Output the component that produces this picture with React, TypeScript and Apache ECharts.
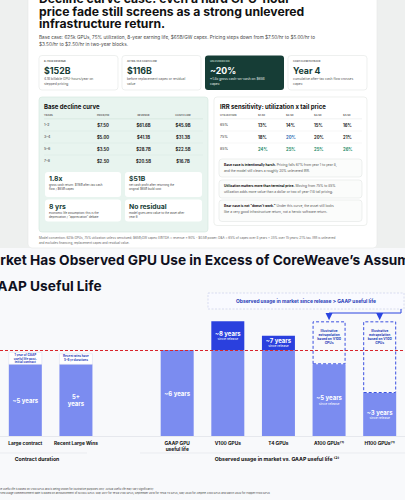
import React, { useEffect, useRef } from "react";
import * as echarts from "echarts";

const FONT = 'Inter, "Noto Sans", sans-serif';

// ---------- top report data ----------
const reportTitle = ["Decline curve case: even a hard GPU-hour", "price fade still screens as a strong unlevered", "infrastructure return."];
const reportSubtitle = [
  "Base case: 625k GPUs, 75% utilization, 8-year earning life, $65B/GW capex. Pricing steps down from $7.50/hr to $5.00/hr to",
  "$3.50/hr to $2.50/hr in two-year blocks.",
];
const kpiLabels = ["8-YEAR REVENUE", "AFTER-TAX CASH FLOW", "UNLEVERED IRR", "CASH FLOW PAYBACK"];
const kpiValues = ["$152B", "$116B", "~20%", "Year 4"];
const kpiNotes = [
  ["4.1B billable GPU-hours/year on", "stepped pricing"],
  ["before replacement capex or residual", "value"],
  ["~1.8x gross cash-on-cash on $65B", "capex"],
  ["cumulative after-tax cash flow crosses", "capex"],
];
const declineHeaders = ["YEARS", "PRICE/HR", "REVENUE", "CASH FLOW"];
const declineYears = ["1–2", "3–4", "5–6", "7–8"];
const declinePrice = ["$7.50", "$5.00", "$3.50", "$2.50"];
const declineRevenue = ["$61.6B", "$41.1B", "$28.7B", "$20.5B"];
const declineCashFlow = ["$45.9B", "$31.3B", "$22.5B", "$16.7B"];
const statValues = ["1.8x", "$51B", "8 yrs", "No residual"];
const statNotes = [
  ["gross cash return: $116B after-tax cash", "flow / $65B capex"],
  ["net cash profit after returning the", "original $65B build cost"],
  ["economic life assumption; this is the", "depreciation / \u201cappreciation\u201d debate"],
  ["model gives zero value to the asset after", "year 8"],
];
const modelConvention = [
  "Model convention: 625k GPUs, 75% utilization unless sensitized; $65B/GW capex; EBITDA = revenue \u00d7 90% - $0.5B power; D&A = 65% of capex over 8 years + 35% over 15 years; 21% tax. IRR is unlevered",
  "and excludes financing, replacement capex and residual value.",
];
const irrTailPrices = ["$1.50", "$2.50", "$3.50", "$4.50"];
const irrUtil = ["65%", "75%", "85%"];
const irrValues = [
  [13, 14, 15, 16],
  [18, 20, 20, 21],
  [24, 25, 25, 26],
];
const irrNotes = [
  { lead: "Base case is intentionally harsh.", rest: " Pricing falls 67% from year 1 to year 8,", line2: "and the model still clears a roughly 20% unlevered IRR." },
  { lead: "Utilization matters more than terminal price.", rest: " Moving from 75% to 85%", line2: "utilization adds more value than a dollar or two of year-7/8 tail pricing." },
  { lead: "Bear case is not \u201cdoesn't work.\u201d", rest: " Under this curve, the asset still looks", line2: "like a very good infrastructure return, not a heroic software return." },
];

// ---------- bottom chart data ----------
const chartTitle = ["Market Has Observed GPU Use in Excess of CoreWeave\u2019s Assumed", "GAAP Useful Life"];
const categories = ["Large contract", "Recent Large Wins", "", "GAAP GPU\nuseful life", "V100 GPUs", "T4 GPUs", "A100 GPUs\u207d\u00b9\u207e", "H100 GPUs\u207d\u00b9\u207e"];
const baseYears = [5, 5, null, 6, 6, 6, 5, 3];
const observedExtraYears = [null, null, null, null, 2, 1, null, null];
const extrapolatedYears = [null, null, null, null, null, null, 3, 5];
const baseLabels = ["~5 years", "5+\nyears", "", "~6 years", "", "", "~5 years\nsince release", "~3 years\nsince release"];
const observedLabels = ["", "", "", "", "~8 years\nsince release", "~7 years\nsince release", "", ""];
const extrapolationLabel = "Illustrative\nextrapolation\nbased on V100\nGPUs";
const gaapUsefulLife = 6;
const contractNotes = [["1 year of GAAP", "useful life post-", "initial contract"], ["Recent wins have", "5\u20136 yr durations"]];
const observedBanner = "Observed usage in market since release > GAAP useful life";
const groupLabels = ["Contract duration", "Observed usage in market vs. GAAP useful life \u207d\u00b2\u207e"];
const footnotes = [
  "(1) Illustrative useful life is based on V100 GPUs and is being shown for illustrative purposes only. Actual useful life may vary significantly.",
  "(2) Observed usage commencement date is based on announcement of NVIDIA GPUs: May 2017 for Tesla V100 GPUs; September 2018 for Tesla T4 GPUs; May 2020 for Ampere A100 GPUs and March 2022 for Hopper H100 GPUs",
];

const LIGHT = "#7b8cf0";
const DARK = "#2a40de";
const BLUE_TXT = "#2a3db8";
const GREEN = "#163d36";

function txt(text: string, x: number, y: number, size: number, color: string, weight = "normal", align = "left", z = 6, extra: any = {}) {
  return {
    type: "text",
    x,
    y,
    z,
    silent: true,
    style: {
      text,
      fontSize: size,
      fontFamily: FONT,
      fill: color,
      fontWeight: weight,
      align,
      textAlign: align,
      verticalAlign: "middle",
      textVerticalAlign: "middle",
      ...extra,
    },
  };
}
function rect(x: number, y: number, w: number, h: number, fill: string, stroke: string | null, z = 2, r = 3, extra: any = {}) {
  return {
    type: "rect",
    z,
    silent: true,
    shape: { x, y, width: w, height: h, r },
    style: { fill, stroke: stroke || "none", lineWidth: stroke ? 0.6 : 0, ...extra },
  };
}
function hline(x1: number, x2: number, y: number, color: string, z = 3, w = 0.5) {
  return { type: "line", z, silent: true, shape: { x1, y1: y, x2, y2: y }, style: { stroke: color, lineWidth: w } };
}

function buildTop(): any[] {
  const g: any[] = [];
  g.push(rect(0, 0, 405, 248, "#eef0ef", null, 1, 0));
  g.push(rect(28, -10, 349, 258, "#ffffff", "#e6e8e6", 1, 4));
  reportTitle.forEach((t, i) => g.push(txt(t, 39, -1.5 + i * 12.5, 12.2, "#111111", "bold")));
  reportSubtitle.forEach((t, i) => g.push(txt(t, 39, 37.3 + i * 6.8, 4.7, "#444444")));
  // KPI cards
  const kx = [39, 122, 205, 288];
  kx.forEach((x, i) => {
    const dark = i === 2;
    g.push(rect(x, 55.5, 79, 34.5, dark ? GREEN : "#ffffff", dark ? null : "#e3e6e4", 2, 3));
    g.push(txt(kpiLabels[i], x + 5, 61.3, 2.5, dark ? "#a9c8bd" : "#666666", "bold"));
    g.push(txt(kpiValues[i], x + 5, 70.5, 8.8, dark ? "#ffffff" : GREEN, "bold"));
    kpiNotes[i].forEach((n, j) => g.push(txt(n, x + 5, 79 + j * 4.5, 3.3, dark ? "#e4efeb" : "#555555")));
  });
  // left panel
  g.push(rect(39, 97, 169, 135, "#e8f4ef", "#d2e6dc", 2, 3));
  g.push(txt("Base decline curve", 44, 106, 6, "#111111", "bold"));
  const dcx = [44, 103, 143.5, 183];
  declineHeaders.forEach((h, i) => g.push(txt(h, dcx[i], 114.3, 2.6, "#666666", "bold", i === 0 ? "left" : "center")));
  g.push(hline(44, 203, 118.8, "#cde0d6"));
  declineYears.forEach((yr, r) => {
    const y = 125 + r * 12;
    g.push(txt(yr, 44, y, 3.6, "#333333"));
    g.push(txt(declinePrice[r], dcx[1], y, 4.2, "#222222", "bold", "center"));
    g.push(txt(declineRevenue[r], dcx[2], y, 4.2, "#222222", "bold", "center"));
    g.push(txt(declineCashFlow[r], dcx[3], y, 4.2, "#222222", "bold", "center"));
    if (r < 3) g.push(hline(44, 203, y + 6, "#d8e8e0"));
  });
  const sc = [
    [45, 172, 76, 25],
    [125, 172, 77, 25],
    [45, 199.5, 76, 22],
    [125, 199.5, 77, 22],
  ];
  sc.forEach(([x, y, w, h], i) => {
    g.push(rect(x, y, w, h, "#ffffff", null, 3, 3));
    g.push(txt(statValues[i], x + 4, y + 6.8, 6.8, GREEN, "bold"));
    statNotes[i].forEach((n, j) => g.push(txt(n, x + 4, y + 13.2 + j * 3.8, 2.9, "#444444")));
  });
  modelConvention.forEach((t, i) => g.push(txt(t, 39, 238.3 + i * 4.3, 3.05, "#666666")));
  // right panel
  g.push(rect(214, 97, 153, 128.5, "#ffffff", "#e2e5e3", 2, 3));
  g.push(txt("IRR sensitivity: utilization x tail price", 220, 106, 6, "#111111", "bold"));
  const rcx = [258, 286, 314, 343];
  g.push(txt("UTILIZATION", 220, 114.3, 2.6, "#666666", "bold"));
  irrTailPrices.forEach((p, i) => g.push(txt(p, rcx[i], 114.3, 2.6, "#666666", "bold")));
  g.push(hline(220, 362, 118.8, "#e3e6e4"));
  irrUtil.forEach((u, r) => {
    const y = 125 + r * 12;
    g.push(txt(u, 220, y, 3.6, "#333333"));
    irrValues[r].forEach((v, c) => {
      let col = "#222222";
      if (r === 2) col = "#1e8a68";
      if (r === 1 && c === 1) col = "#2f6db5";
      g.push(txt(v + "%", rcx[c], y, 4.2, col, "bold"));
    });
    if (r < 2) g.push(hline(220, 362, y + 6, "#eceeed"));
  });
  const nb = [159, 180, 200];
  irrNotes.forEach((n, i) => {
    const y = nb[i];
    g.push(rect(219, y, 143, i === 2 ? 21.5 : 18, "#fbfcfb", "#e3e6e4", 3, 3));
    g.push(
      txt(`{b|${n.lead}}{n|${n.rest}}`, 224, y + 6.3, 3.3, "#555555", "normal", "left", 6, {
        rich: {
          b: { fontSize: 3.3, fontWeight: "bold", fill: "#111111", fontFamily: FONT },
          n: { fontSize: 3.3, fill: "#555555", fontFamily: FONT },
        },
      })
    );
    g.push(txt(n.line2, 224, y + 11.8, 3.3, "#555555"));
  });
  return g;
}

function buildBottomStatic(): any[] {
  const g: any[] = [];
  g.push(txt(chartTitle[0], -20.5, 260, 13.7, "#0f1020", "bold"));
  g.push(txt(chartTitle[1], -12.5, 285.5, 13.7, "#0f1020", "bold"));
  g.push(rect(208, 293, 196, 16, "#f9faff", "#c5cbe8", 8, 0, { lineDash: [2, 1.5] }));
  g.push(txt(observedBanner, 306, 301, 4.9, BLUE_TXT, "bold", "center", 9));
  g.push(hline(0, 87, 453, "#e1e3ea", 3, 0.6));
  g.push(hline(140, 405, 453, "#e1e3ea", 3, 0.6));
  g.push(txt(groupLabels[0], 37, 459.3, 5.2, "#111111", "bold", "center"));
  g.push(txt(groupLabels[1], 277, 459.3, 5.2, "#111111", "bold", "center"));
  g.push(txt(footnotes[0], 154, 489, 2.6, "#444444", "normal", "right"));
  g.push(txt(footnotes[1], 270, 492.3, 2.6, "#444444", "normal", "right"));
  return g;
}

function labelRich(lines: string) {
  return lines
    .split("\n")
    .filter((l) => l.length)
    .map((l) => (l === "since release" ? `{b|${l}}` : `{a|${l}}`))
    .join("\n");
}
const richStyles = {
  a: { fontSize: 6, fontWeight: "bold", color: "#ffffff", fontFamily: FONT, lineHeight: 7 },
  b: { fontSize: 3.3, color: "#ffffff", fontFamily: FONT, lineHeight: 4.5 },
};

export default function App() {
  const ref = useRef<HTMLDivElement>(null);
  useEffect(() => {
    if (!ref.current) return;
    const chart = echarts.init(ref.current, null, { renderer: "svg" });
    const option: any = {
      animation: false,
      backgroundColor: "#f8f9fb",
      grid: { left: -20, width: 432, top: 292.67, height: 143.33, containLabel: false },
      xAxis: {
        type: "category",
        data: categories,
        axisTick: { show: false },
        axisLine: { lineStyle: { color: "#e1e3ea", width: 0.8 } },
        axisLabel: { interval: 0, fontSize: 4.8, fontWeight: "bold", color: "#111111", fontFamily: FONT, margin: 4, lineHeight: 6 },
      },
      yAxis: { type: "value", min: 0, max: 10, show: false },
      series: [
        {
          type: "bar",
          stack: "life",
          barWidth: 33,
          data: baseYears,
          itemStyle: { color: LIGHT },
          label: {
            show: true,
            position: "inside",
            formatter: (p: any) => labelRich(baseLabels[p.dataIndex]),
            rich: richStyles,
          },
          markLine: {
            silent: true,
            symbol: "none",
            label: { show: false },
            lineStyle: { color: "#d9252b", type: [3, 2], width: 1 },
            data: [{ yAxis: gaapUsefulLife }],
          },
        },
        {
          type: "bar",
          stack: "life",
          barWidth: 33,
          data: observedExtraYears,
          itemStyle: { color: DARK },
          label: {
            show: true,
            position: "inside",
            formatter: (p: any) => labelRich(observedLabels[p.dataIndex]),
            rich: richStyles,
          },
        },
        {
          type: "bar",
          stack: "life",
          barWidth: 33,
          data: extrapolatedYears,
          itemStyle: { color: "rgba(255,255,255,0)", borderColor: "#3b50e0", borderWidth: 1, borderType: [3, 2] },
          label: {
            show: true,
            position: "insideTop",
            distance: 8,
            formatter: () => extrapolationLabel,
            fontSize: 3.3,
            lineHeight: 4,
            fontWeight: "bold",
            color: BLUE_TXT,
            fontFamily: FONT,
          },
        },
      ],
    };
    chart.setOption(option);
    const px = (i: number, v: number) => chart.convertToPixel({ gridIndex: 0 }, [i, v]) as number[];

    const ann: any[] = [];
    // notes above contract bars
    [0, 1].forEach((i) => {
      const p = px(i, baseYears[i] as number);
      const lines = contractNotes[i];
      const h = lines.length === 3 ? 12 : 10.5;
      ann.push(rect(p[0] - 16.5, p[1] - h, 33, h, "#ffffff", "#cfd4ea", 10, 0, { lineWidth: 0.4 }));
      lines.forEach((l, j) =>
        ann.push(txt(l, p[0], p[1] - h + 2.4 + j * 3.6, 3, BLUE_TXT, "bold", "center", 11))
      );
    });
    // connector from banner to extrapolated bars
    const pA = px(6, 8);
    const pH = px(7, 8);
    ann.push({
      type: "polyline",
      z: 10,
      silent: true,
      shape: { points: [[401, 309], [401, 313], [pA[0], 313]] },
      style: { stroke: "#2b45e0", lineWidth: 1, fill: "none" },
    });
    [pA, pH].forEach((p) =>
      ann.push({
        type: "polygon",
        z: 11,
        silent: true,
        shape: { points: [[p[0] - 3.5, 313], [p[0] + 3.5, 313], [p[0], p[1] - 1.2]] },
        style: { fill: "#2b45e0" },
      })
    );
    chart.setOption({ graphic: { elements: [...buildTop(), ...buildBottomStatic(), ...ann] } });
    return () => chart.dispose();
  }, []);
  return <div ref={ref} style={{ position: "absolute", left: 0, top: 0, width: 405, height: 500 }} />;
}
